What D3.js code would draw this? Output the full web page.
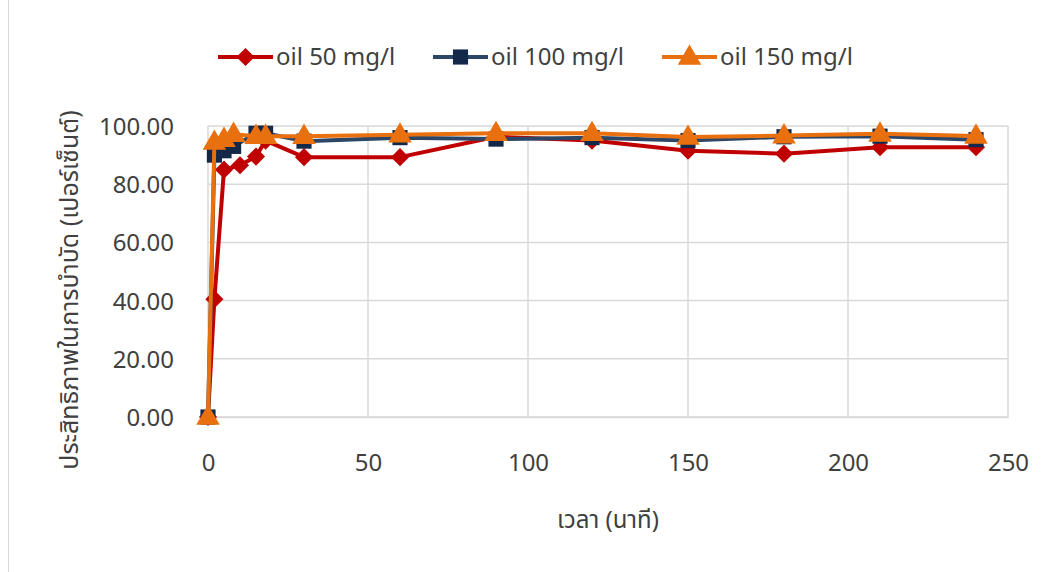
<!DOCTYPE html>
<html>
<head>
<meta charset="utf-8">
<script src="https://cdn.jsdelivr.net/npm/d3@7"></script>
<style>
  html, body { margin: 0; padding: 0; background: #fff; }
  svg text { font-family: "Liberation Sans Narrow", "Noto Sans Thai", "Noto Sans", sans-serif; fill: #404040; }
</style>
</head>
<body>
<svg id="chart" width="1046" height="572"></svg>
<script>
// Removal efficiency over time for three oil concentrations
const seriesNames = ["oil 50 mg/l", "oil 100 mg/l", "oil 150 mg/l"];
const time50  = [0, 2, 5, 10, 15, 18, 30, 60, 90, 120, 150, 180, 210, 240];
const eff50   = [0, 40.5, 85, 86.5, 89.5, 95, 89.3, 89.3, 96.3, 95, 91.5, 90.5, 92.7, 92.7];
const time100 = [0, 2, 5, 8, 15, 18, 30, 60, 90, 120, 150, 180, 210, 240];
const eff100  = [0, 90, 91.5, 93, 97.5, 97.5, 94.8, 96, 95.5, 96, 95, 96.3, 96.5, 95.3];
const time150 = [0, 2, 5, 8, 15, 18, 30, 60, 90, 120, 150, 180, 210, 240];
const eff150  = [0, 94.5, 95.5, 97.2, 96.5, 96.5, 96.5, 97, 97.5, 97.5, 96.2, 96.7, 97.3, 96.6];
const xTicks = [0, 50, 100, 150, 200, 250];
const yTicks = [0, 20, 40, 60, 80, 100];
const xTitle = "เวลา (นาที)";
const yTitle = "ประสิทธิภาพในการบำบัด (เปอร์เซ็นต์)";

const markerFill = ["#C00000", "#14284A", "#E8700E"];
const lineColors = ["#C00000", "#2C4668", "#E8700E"];

const svg = d3.select("#chart");
const m = { left: 208, right: 1008, top: 126, bottom: 417 };

const x = d3.scaleLinear().domain([0, 250]).range([m.left, m.right]);
const y = d3.scaleLinear().domain([0, 100]).range([m.bottom, m.top]);

// chart frame
svg.append("rect").attr("x", 8.5).attr("y", -2).attr("width", 1050).attr("height", 580)
  .attr("fill", "none").attr("stroke", "#d9d9d9");

// gridlines
svg.append("g").selectAll("line").data(yTicks).join("line")
  .attr("x1", m.left).attr("x2", m.right)
  .attr("y1", d => y(d)).attr("y2", d => y(d))
  .attr("stroke", "#d9d9d9").attr("stroke-width", 1.5);
svg.append("g").selectAll("line").data(xTicks).join("line")
  .attr("x1", d => x(d)).attr("x2", d => x(d))
  .attr("y1", m.top).attr("y2", m.bottom)
  .attr("stroke", "#d9d9d9").attr("stroke-width", 1.5);

// axes
const xAxis = svg.append("g").attr("transform", `translate(0,${m.bottom})`)
  .call(d3.axisBottom(x).tickValues(xTicks).tickSize(0).tickPadding(0).tickFormat(d3.format("d")));
xAxis.select(".domain").attr("stroke", "#d9d9d9").attr("stroke-width", 1.5);
xAxis.selectAll("text").attr("dy", null).attr("y", 54).style("font-size", "24px").attr("fill", "#404040");

const yAxis = svg.append("g").attr("transform", `translate(${m.left},0)`)
  .call(d3.axisLeft(y).tickValues(yTicks).tickSize(0).tickPadding(0).tickFormat(d3.format(".2f")));
yAxis.select(".domain").remove();
yAxis.selectAll("text").attr("x", -34).attr("dy", "0.35em").style("font-size", "24px").attr("fill", "#404040");

// axis titles
svg.append("text").attr("x", 608).attr("y", 528).attr("text-anchor", "middle")
  .style("font-size", "24px").text(xTitle);
svg.append("text").attr("transform", "translate(78,290) rotate(-90)").attr("text-anchor", "middle")
  .style("font-size", "25px").text(yTitle);

// markers
const symbols = [
  d3.symbol().type(d3.symbolDiamond2).size(210),
  d3.symbol().type(d3.symbolSquare).size(230),
  d3.symbol().type(d3.symbolTriangle).size(240)
];

const data = [
  time50.map((t, i) => [t, eff50[i]]),
  time100.map((t, i) => [t, eff100[i]]),
  time150.map((t, i) => [t, eff150[i]])
];

const line = d3.line().x(d => x(d[0])).y(d => y(d[1]));

data.forEach((pts, s) => {
  const g = svg.append("g");
  g.append("path").datum(pts).attr("d", line)
    .attr("fill", "none").attr("stroke", lineColors[s]).attr("stroke-width", 4)
    .attr("stroke-linejoin", "round");
  g.selectAll("path.mk").data(pts).join("path").attr("class", "mk")
    .attr("transform", d => `translate(${x(d[0])},${y(d[1]) + (s === 2 ? 1 : 0)})`)
    .attr("d", symbols[s]()).attr("fill", markerFill[s]);
});

// legend
const legendX = [218, 433, 662];
seriesNames.forEach((name, s) => {
  const g = svg.append("g").attr("transform", `translate(${legendX[s]},57)`);
  g.append("line").attr("x1", 0).attr("x2", 55).attr("y1", 0).attr("y2", 0)
    .attr("stroke", lineColors[s]).attr("stroke-width", 4);
  g.append("path").attr("transform", `translate(27.5,${s === 2 ? 1 : 0})`)
    .attr("d", symbols[s]()).attr("fill", markerFill[s]);
  g.append("text").attr("x", 58).attr("y", 0).attr("dy", "0.32em")
    .style("font-size", "24px").text(name);
});
</script>
</body>
</html>
